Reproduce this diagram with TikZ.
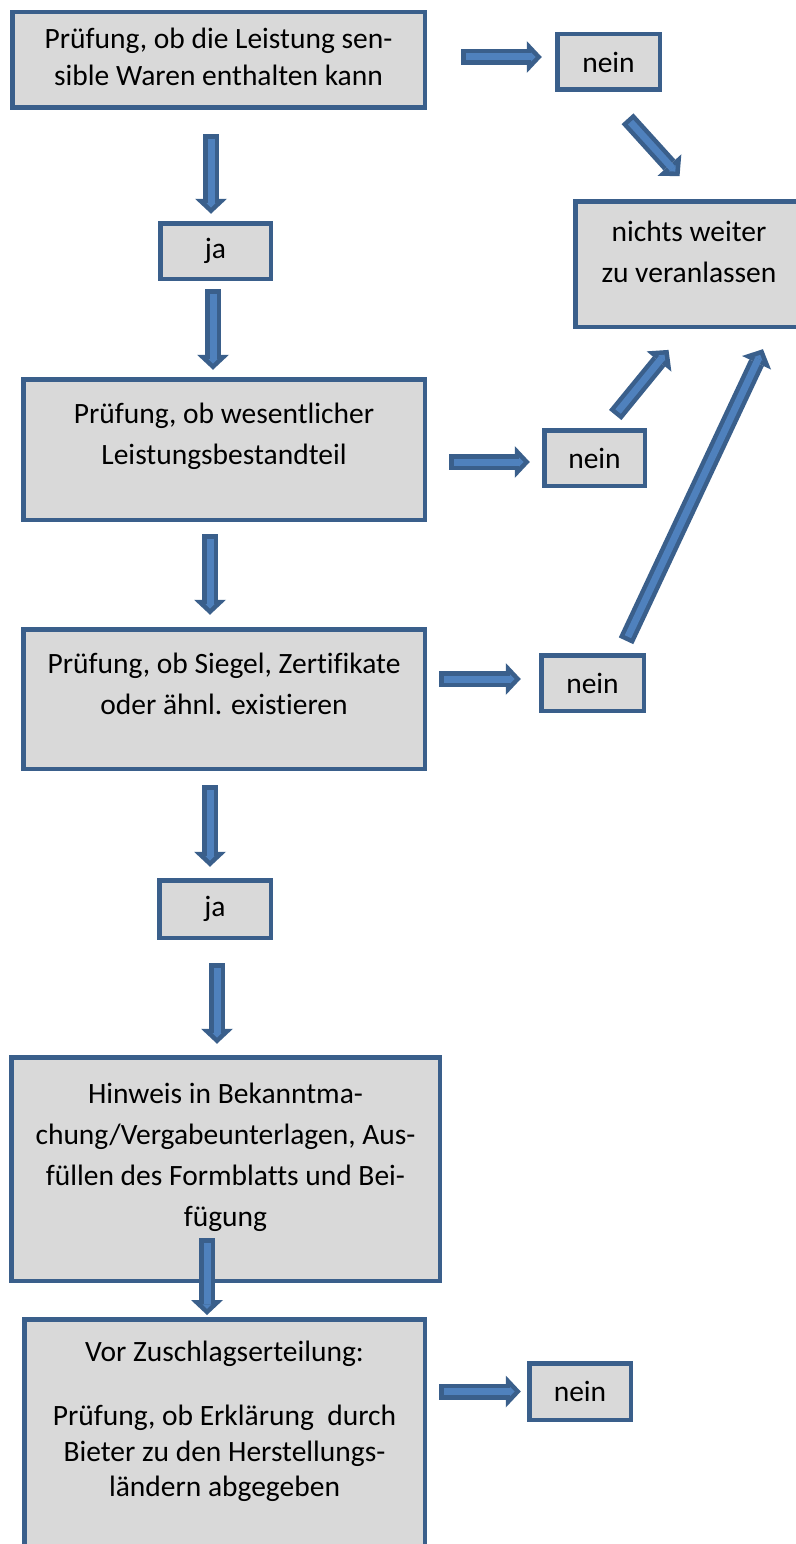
\documentclass[tikz,border=0pt]{standalone}
\usepackage{fontspec}
\setmainfont{Carlito}[Ligatures=NoCommon]
\usetikzlibrary{arrows.meta,calc}
\definecolor{rahmen}{HTML}{3A5F8B}
\definecolor{kasten}{HTML}{D9D9D9}
\definecolor{pfeilblau}{HTML}{4F81BD}

\begin{document}
\begin{tikzpicture}[x=1pt,y=-1pt,
			box/.style={draw=rahmen, fill=kasten, line width=4.5pt, align=center, inner sep=0pt,
				font=\fontsize{29.5}{41}\selectfont},
			pfeil/.style 2 args={draw=rahmen, line width=16pt,
				-{Triangle[width=32pt,length=15pt,line width=0pt]}, shorten <=#1, shorten >=#2,
				postaction={draw=pfeilblau, line width=7pt,
					-{Triangle[width=9pt,length=4.5pt,line width=0pt]}, shorten <=#1+4.5pt, shorten >=#2+6.2pt}}]
			\useasboundingbox (0,0) rectangle (795,1544);
			\node[box, minimum width=412.5pt, minimum height=95.5pt, font=\fontsize{29.5}{37}\selectfont] (waren) at (218.5,60) {Prüfung, ob die Leistung sen-\\sible Waren enthalten kann\\[-31pt]\mbox{}};
			\node[box, minimum width=102.5pt, minimum height=55.5pt] (nein1) at (608.5,62) {nein};
			\node[box, minimum width=110.5pt, minimum height=55.5pt] (ja1) at (215.5,251) {ja};
			\node[box, minimum width=227.5pt, minimum height=125.5pt] (nichts) at (689,264) {nichts weiter\\zu veranlassen\\[-16pt]\mbox{}};
			\node[box, minimum width=401.5pt, minimum height=140.5pt] (wesentlich) at (224,449.5) {Prüfung, ob wesentlicher\\Leistungsbestandteil\\[-10pt]\mbox{}};
			\node[box, minimum width=100.5pt, minimum height=55.5pt] (nein2) at (594.5,458) {nein};
			\node[box, minimum width=401.5pt, minimum height=139.5pt] (siegel) at (224,699) {Prüfung, ob Siegel, Zertifikate\\oder ähnl. existieren\\[-10pt]\mbox{}};
			\node[box, minimum width=102.5pt, minimum height=55.5pt] (nein3) at (592.5,683) {nein};
			\node[box, minimum width=111.5pt, minimum height=57.5pt] (ja2) at (215,909) {ja};
			\node[box, minimum width=428.5pt, minimum height=223.5pt] (hinweis) at (225.5,1169) {Hinweis in Bekanntma-\\chung/Vergabeunterlagen, Aus-\\füllen des Formblatts und Bei-\\fügung\\[-12pt]\mbox{}};
			\node[box, minimum width=400.5pt, anchor=north, inner ysep=21.75pt, text depth=300pt, font=\fontsize{29.5}{35.5}\selectfont] (zuschlag) at (224.5,1317.25) {Vor Zuschlagserteilung:\\[28.5pt]Prüfung, ob Erklärung~ durch\\Bieter zu den Herstellungs-\\ländern abgegeben};
			\node[box, minimum width=101.5pt, minimum height=56.5pt] (nein4) at (580,1391.5) {nein};
			\draw[pfeil={24.25pt}{7.25pt}] ([xshift=-7.5pt]waren.south) -- ([xshift=-4.5pt]ja1.north);
			\draw[pfeil={8.25pt}{7.25pt}] ([xshift=-2.5pt]ja1.south) -- ([xshift=-11pt]wesentlich.north);
			\draw[pfeil={12.25pt}{12.25pt}] ([xshift=-14pt]wesentlich.south) -- ([xshift=-14pt]siegel.north);
			\draw[pfeil={14.25pt}{11.25pt}] ([xshift=-14pt]siegel.south) -- ([xshift=-5pt]ja2.north);
			\draw[pfeil={23.25pt}{11.25pt}] ([xshift=2pt]ja2.south) -- ([xshift=-8.5pt]hinweis.north);
			\draw[pfeil={-44.75pt}{2.25pt}] ([xshift=-18.5pt]hinweis.south) -- ([xshift=-17.5pt]zuschlag.north);
			\draw[pfeil={34.25pt}{13.25pt}] ([yshift=3pt]waren.east) -- ([yshift=5pt]nein1.west);
			\draw[pfeil={22.25pt}{12.25pt}] ([yshift=-12.5pt]wesentlich.east) -- ([yshift=-4pt]nein2.west);
			\draw[pfeil={12.25pt}{18.25pt}] ([yshift=20pt]siegel.east) -- ([yshift=4pt]nein3.west);
			\draw[pfeil={12.25pt}{6.25pt}] (zuschlag.east |- nein4.west) -- (nein4.west);
			\draw[pfeil={36.1pt}{30.8pt}] ([xshift=-5.2pt]nein1.south) -- ([xshift=11.2pt]nichts.north);
			\draw[pfeil={16.8pt}{27pt}] ([xshift=10.1pt]nein2.north) -- ([xshift=-3.4pt]nichts.south);
			\draw[pfeil={13.5pt}{22.3pt}] ([xshift=27.8pt]nein3.north) -- ([xshift=83.4pt]nichts.south);
		\end{tikzpicture}
\end{document}
